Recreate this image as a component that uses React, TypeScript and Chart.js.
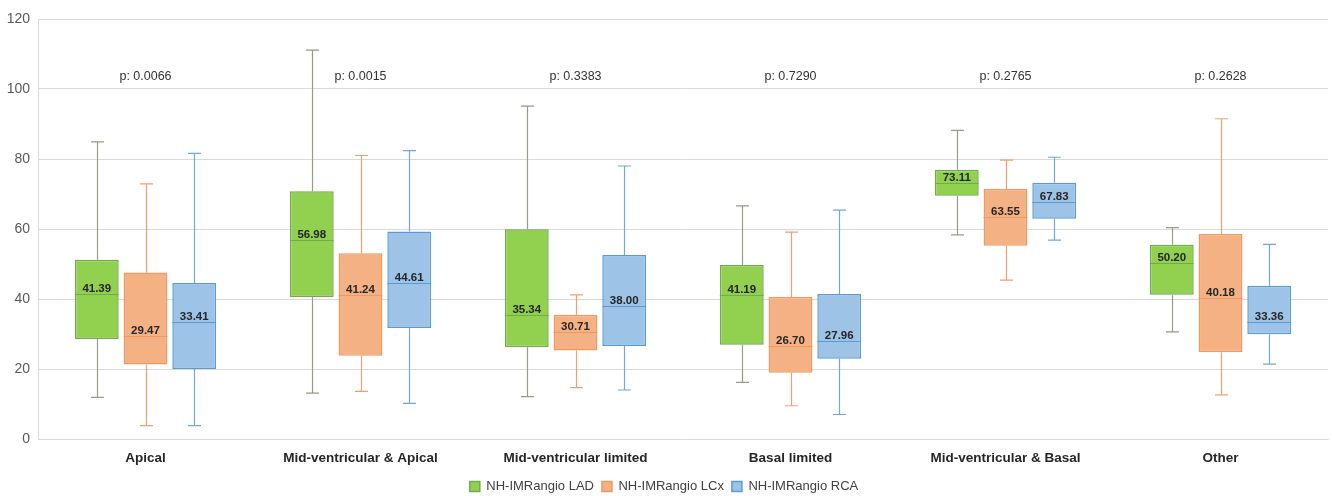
import React, { useEffect, useRef } from "react";
import { Chart, registerables } from "chart.js";

Chart.register(...registerables);

const categories = [
  "Apical",
  "Mid-ventricular & Apical",
  "Mid-ventricular limited",
  "Basal limited",
  "Mid-ventricular & Basal",
  "Other",
];
const pValues = ["p: 0.0066", "p: 0.0015", "p: 0.3383", "p: 0.7290", "p: 0.2765", "p: 0.2628"];
const pLabelLevel = 103.6;
const yTicks = [0, 20, 40, 60, 80, 100, 120];

const seriesNames = ["NH-IMRangio LAD", "NH-IMRangio LCx", "NH-IMRangio RCA"];

const ladMin = [11.9, 13.1, 12.1, 16.2, 58.3, 30.6];
const ladQ1 = [28.6, 40.6, 26.2, 26.9, 69.5, 41.2];
const ladMedian = [41.39, 56.98, 35.34, 41.19, 73.11, 50.2];
const ladQ3 = [51.2, 70.8, 59.9, 49.7, 76.9, 55.5];
const ladMax = [84.9, 111.1, 95.1, 66.6, 88.2, 60.4];

const lcxMin = [3.8, 13.6, 14.7, 9.5, 45.4, 12.6];
const lcxQ1 = [21.3, 23.8, 25.3, 18.9, 55.2, 24.8];
const lcxMedian = [29.47, 41.24, 30.71, 26.7, 63.55, 40.18];
const lcxQ3 = [47.6, 53.1, 35.5, 40.6, 71.4, 58.6];
const lcxMax = [72.9, 81.0, 41.2, 59.1, 79.7, 91.5];

const rcaMin = [3.8, 10.2, 14.0, 7.0, 56.8, 21.4];
const rcaQ1 = [20.0, 31.7, 26.6, 22.9, 62.9, 29.9];
const rcaMedian = [33.41, 44.61, 38.0, 27.96, 67.83, 33.36];
const rcaQ3 = [44.6, 59.3, 52.6, 41.4, 73.2, 43.8];
const rcaMax = [81.6, 82.4, 78.0, 65.4, 80.5, 55.6];

const fills = ["#92d050", "#f4b183", "#9dc3e6"];
const borders = ["#70ad47", "#ed9a62", "#5b9bd5"];
const whiskerColors = ["#9a9a88", "#f0a070", "#6fa8dc"];

const FONT = "'Liberation Sans', Arial, sans-serif";

const stats = [
  { min: ladMin, q1: ladQ1, med: ladMedian, q3: ladQ3, max: ladMax },
  { min: lcxMin, q1: lcxQ1, med: lcxMedian, q3: lcxQ3, max: lcxMax },
  { min: rcaMin, q1: rcaQ1, med: rcaMedian, q3: rcaQ3, max: rcaMax },
];

const boxPlugin = {
  id: "boxExtras",
  beforeDatasetsDraw(chart: any) {
    const ctx = chart.ctx;
    const y = chart.scales.y;
    ctx.save();
    stats.forEach((s, di) => {
      const meta = chart.getDatasetMeta(di);
      meta.data.forEach((bar: any, i: number) => {
        const x = Math.round(bar.x) + 0.5;
        const capHalf = 6.5;
        ctx.strokeStyle = whiskerColors[di];
        ctx.lineWidth = 1.2;
        ctx.beginPath();
        ctx.moveTo(x, y.getPixelForValue(s.q3[i]));
        ctx.lineTo(x, y.getPixelForValue(s.max[i]));
        ctx.moveTo(x - capHalf, y.getPixelForValue(s.max[i]));
        ctx.lineTo(x + capHalf, y.getPixelForValue(s.max[i]));
        ctx.moveTo(x, y.getPixelForValue(s.q1[i]));
        ctx.lineTo(x, y.getPixelForValue(s.min[i]));
        ctx.moveTo(x - capHalf, y.getPixelForValue(s.min[i]));
        ctx.lineTo(x + capHalf, y.getPixelForValue(s.min[i]));
        ctx.stroke();
      });
    });
    ctx.restore();
  },
  afterDatasetsDraw(chart: any) {
    const ctx = chart.ctx;
    const y = chart.scales.y;
    const xs = chart.scales.x;
    ctx.save();
    stats.forEach((s, di) => {
      const meta = chart.getDatasetMeta(di);
      meta.data.forEach((bar: any, i: number) => {
        const half = bar.width / 2;
        const my = Math.round(y.getPixelForValue(s.med[i])) + 0.5;
        ctx.strokeStyle = borders[di];
        ctx.lineWidth = 1.2;
        ctx.beginPath();
        ctx.moveTo(bar.x - half, my);
        ctx.lineTo(bar.x + half, my);
        ctx.stroke();
        ctx.fillStyle = "#262626";
        ctx.font = `bold 11.5px ${FONT}`;
        ctx.textAlign = "center";
        ctx.textBaseline = "alphabetic";
        ctx.fillText(s.med[i].toFixed(2), bar.x, my - 3);
      });
    });
    ctx.fillStyle = "#333333";
    ctx.font = `12.5px ${FONT}`;
    ctx.textAlign = "center";
    ctx.textBaseline = "middle";
    pValues.forEach((p, i) => {
      ctx.fillText(p, xs.getPixelForValue(i), y.getPixelForValue(pLabelLevel));
    });
    ctx.restore();
  },
};

export default function App() {
  const ref = useRef<HTMLCanvasElement | null>(null);
  useEffect(() => {
    if (!ref.current) return;
    const chart = new Chart(ref.current, {
      type: "bar",
      data: {
        labels: categories,
        datasets: stats.map((s, di) => ({
          label: seriesNames[di],
          data: s.q1.map((q, i) => [q, s.q3[i]]),
          backgroundColor: fills[di],
          borderColor: borders[di],
          borderWidth: 1.5,
          borderSkipped: false,
          categoryPercentage: 0.68,
          barPercentage: 0.9,
        })),
      },
      options: {
        animation: false,
        responsive: true,
        maintainAspectRatio: false,
        layout: { padding: { top: 19, right: 4, left: 0, bottom: -7 } },
        plugins: {
          tooltip: { enabled: false },
          legend: {
            position: "bottom",
            labels: {
              boxWidth: 10,
              boxHeight: 10,
              padding: 8,
              color: "#404040",
              font: { family: FONT, size: 13 },
            },
          },
        },
        scales: {
          x: {
            grid: { display: false },
            border: { display: true, color: "#d9d9d9" },
            ticks: {
              color: "#262626",
              font: { family: FONT, size: 13.5, weight: "bold" },
              padding: 3,
              maxRotation: 0,
              autoSkip: false,
            },
            afterFit(scale: any) {
              scale.height = 33;
            },
          },
          y: {
            min: 0,
            max: 120,
            afterBuildTicks(scale: any) {
              scale.ticks = yTicks.map((v) => ({ value: v }));
            },
            grid: { color: "#d9d9d9", drawTicks: false },
            border: { display: true, color: "#d9d9d9" },
            ticks: {
              color: "#595959",
              font: { family: FONT, size: 14 },
              padding: 8,
            },
            afterFit(scale: any) {
              scale.width = 38;
            },
          },
        },
      },
      plugins: [boxPlugin],
    });
    return () => chart.destroy();
  }, []);
  return (
    <div style={{ position: "fixed", left: 0, top: 0, width: 1332, height: 496, background: "#fff" }}>
      <canvas ref={ref} />
    </div>
  );
}
